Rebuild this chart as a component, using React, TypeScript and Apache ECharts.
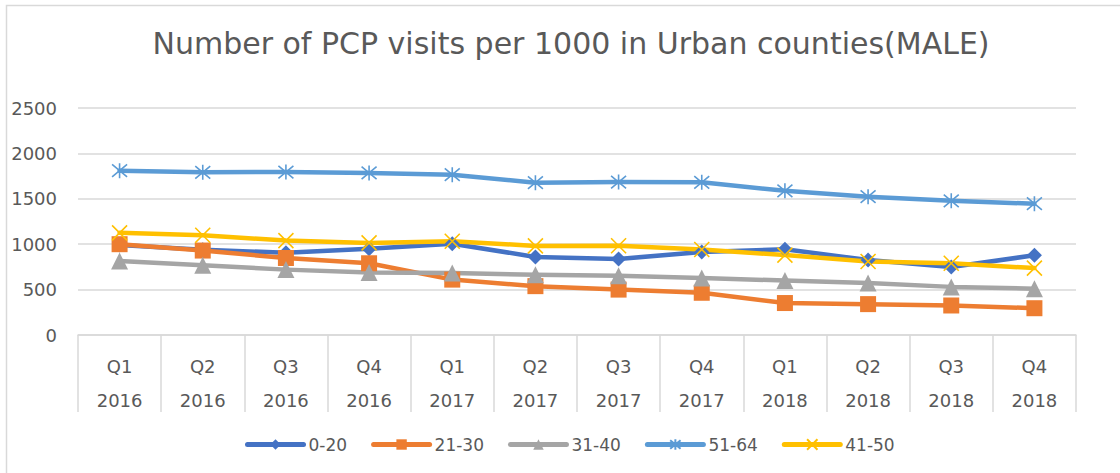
import React, { useEffect, useRef } from "react";
import * as echarts from "echarts";

const quarters = ["Q1", "Q2", "Q3", "Q4", "Q1", "Q2", "Q3", "Q4", "Q1", "Q2", "Q3", "Q4"];
const years = ["2016", "2016", "2016", "2016", "2017", "2017", "2017", "2017", "2018", "2018", "2018", "2018"];
const categories = quarters.map((q, i) => q + "|" + years[i]);

const yTicks = { min: 0, max: 2500, interval: 500 };

const age0to20 = [990, 940, 905, 950, 1005, 860, 838, 915, 945, 825, 748, 878];
const age21to30 = [1000, 930, 848, 790, 610, 538, 500, 465, 352, 340, 325, 295];
const age31to40 = [815, 767, 720, 688, 682, 664, 652, 627, 600, 572, 530, 510];
const age51to64 = [1810, 1792, 1795, 1785, 1765, 1678, 1684, 1682, 1588, 1523, 1478, 1446];
const age41to50 = [1125, 1098, 1040, 1014, 1033, 981, 983, 942, 880, 810, 790, 737];

const seriesNames = ["0-20", "21-30", "31-40", "51-64", "41-50"];

const titleText = "Number of PCP visits per 1000 in Urban counties(MALE)";

const FONT = "DejaVu Sans";
const TEXT = "#595959";
const GRID = "#D9D9D9";

const STAR = "path://M0,0L10,10M10,0L0,10M5,-1L5,11";
const CROSS = "path://M0,0L10,10M10,0L0,10";

export default function App() {
  const ref = useRef<HTMLDivElement>(null);
  useEffect(() => {
    if (!ref.current) return;
    const chart = echarts.init(ref.current, null, { renderer: "svg" });
    const mk = (name: string, data: number[], color: string, symbol: string, size: number, stroke = false) => ({
      name,
      type: "line",
      data,
      symbol,
      symbolSize: size,
      showSymbol: true,
      lineStyle: { color, width: 4.5, cap: "round", join: "round" },
      itemStyle: stroke
        ? { color: "rgba(0,0,0,0)", borderColor: color, borderWidth: 1.6 }
        : { color, borderWidth: 0 },
      emphasis: { disabled: true },
    });
    chart.setOption({
      animation: false,
      backgroundColor: "#ffffff",
      graphic: [
        {
          type: "rect",
          shape: { x: 6.5, y: 5.5, width: 1300, height: 700 },
          style: { fill: "none", stroke: GRID, lineWidth: 1.5 },
          silent: true,
          z: -10,
        },
        {
          type: "text",
          x: 571,
          y: 43,
          style: {
            text: titleText,
            font: `30px '${FONT}'`,
            fill: TEXT,
            textAlign: "center",
            textVerticalAlign: "middle",
          },
        },
      ],
      grid: { left: 78, right: 44, top: 108, bottom: 138, containLabel: false },
      legend: {
        data: seriesNames,
        left: 240,
        top: 431,
        itemWidth: 56,
        itemHeight: 13,
        itemGap: 24,
        lineStyle: { width: 5, cap: "round" },
        textStyle: { fontFamily: FONT, fontSize: 17, color: TEXT },
      },
      xAxis: {
        type: "category",
        data: categories,
        boundaryGap: true,
        axisLine: { lineStyle: { color: GRID, width: 1.5 } },
        axisTick: { show: true, length: 77, lineStyle: { color: GRID, width: 1.5 } },
        axisLabel: {
          interval: 0,
          margin: 14,
          fontFamily: FONT,
          fontSize: 18,
          color: TEXT,
          lineHeight: 34,
          formatter: (v: string) => v.split("|").join("\n"),
        },
      },
      yAxis: {
        type: "value",
        min: yTicks.min,
        max: yTicks.max,
        interval: yTicks.interval,
        axisLine: { show: false },
        axisTick: { show: false },
        splitLine: { lineStyle: { color: GRID, width: 1.5 } },
        axisLabel: {
          margin: 21,
          fontFamily: FONT,
          fontSize: 18,
          color: TEXT,
          formatter: (v: number) => String(v),
        },
      },
      series: [
        mk(seriesNames[0], age0to20, "#4472C4", "diamond", 15),
        mk(seriesNames[1], age21to30, "#ED7D31", "rect", 16),
        mk(seriesNames[2], age31to40, "#A5A5A5", "triangle", 17),
        mk(seriesNames[3], age51to64, "#5B9BD5", STAR, 15, true),
        mk(seriesNames[4], age41to50, "#FFC000", CROSS, 15, true),
      ],
    });
    return () => chart.dispose();
  }, []);
  return (
    <div
      ref={ref}
      style={{ position: "fixed", left: 0, top: 0, width: 1120, height: 473 }}
    />
  );
}
